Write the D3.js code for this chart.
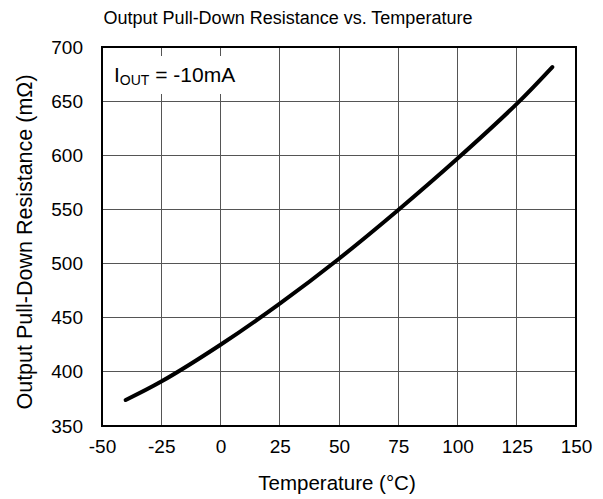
<!DOCTYPE html>
<html><head><meta charset="utf-8">
<script src="https://cdn.jsdelivr.net/npm/d3@7"></script>
<style>body{margin:0;background:#fff}svg{display:block}text{font-family:"Liberation Sans",Arial,sans-serif;fill:#000}</style>
</head><body>
<svg id="c" width="603" height="499"></svg>
<script>
const temps = [-40, -25, 0, 25, 50, 75, 100, 125, 140];
const resistance = [374, 391, 425, 463, 504.5, 549.5, 597, 647.5, 681.5];
const xTicks = [-50, -25, 0, 25, 50, 75, 100, 125, 150];
const yTicks = [350, 400, 450, 500, 550, 600, 650, 700];
const title = "Output Pull-Down Resistance vs. Temperature";
const xTitle = "Temperature (°C)";
const yTitle = "Output Pull-Down Resistance (mΩ)";

const svg = d3.select("#c");
const L = 102, R = 576, T = 47, B = 426;
const x = d3.scaleLinear().domain([-50, 150]).range([L, R]);
const y = d3.scaleLinear().domain([350, 700]).range([B, T]);

// grid
const g = svg.append("g");
g.selectAll("line.v").data(xTicks.slice(1, -1)).join("line")
  .attr("x1", d => x(d)).attr("x2", d => x(d)).attr("y1", T).attr("y2", B)
  .attr("stroke", "#555").attr("stroke-width", 1).attr("shape-rendering", "crispEdges");
g.selectAll("line.h").data(yTicks.slice(1, -1)).join("line")
  .attr("y1", d => y(d)).attr("y2", d => y(d)).attr("x1", L).attr("x2", R)
  .attr("stroke", "#555").attr("stroke-width", 1).attr("shape-rendering", "crispEdges");

// legend box
const lg = svg.append("g");
lg.append("rect").attr("x", L + 4).attr("y", 56).attr("width", 140).attr("height", 38).attr("fill", "#fff");
const lt = lg.append("text").attr("x", 114).attr("y", 82).attr("font-size", 21);
lt.append("tspan").text("I");
lt.append("tspan").attr("font-size", 14).attr("dy", 3).text("OUT");
lt.append("tspan").attr("dy", -3).text(" = -10mA");

// frame
svg.append("rect").attr("x", L).attr("y", T).attr("width", R - L).attr("height", B - T)
  .attr("fill", "none").attr("stroke", "#000").attr("stroke-width", 2);

// axes (labels only)
const fmt = d => String(d);
const xa = svg.append("g").attr("transform", `translate(0,${B})`)
  .call(d3.axisBottom(x).tickValues(xTicks).tickSize(0).tickPadding(14).tickFormat(fmt));
xa.select(".domain").remove();
xa.selectAll("text").attr("font-size", 19).attr("font-family", "Liberation Sans, Arial, sans-serif");
const ya = svg.append("g").attr("transform", `translate(${L},0)`)
  .call(d3.axisLeft(y).tickValues(yTicks).tickSize(0).tickPadding(19).tickFormat(fmt));
ya.select(".domain").remove();
ya.selectAll("text").attr("font-size", 19).attr("font-family", "Liberation Sans, Arial, sans-serif");

// curve
const line = d3.line().x((d, i) => x(temps[i])).y(d => y(d)).curve(d3.curveCatmullRom);
svg.append("path").datum(resistance).attr("d", line)
  .attr("fill", "none").attr("stroke", "#000").attr("stroke-width", 4).attr("stroke-linecap", "round");

// titles
svg.append("text").attr("x", 288).attr("y", 24).attr("text-anchor", "middle").attr("font-size", 18).text(title);
svg.append("text").attr("x", 337).attr("y", 490).attr("text-anchor", "middle").attr("font-size", 20.5).text(xTitle);
svg.append("text").attr("transform", `translate(32,242) rotate(-90)`).attr("text-anchor", "middle").attr("font-size", 21.5).text(yTitle);
</script>
</body></html>
